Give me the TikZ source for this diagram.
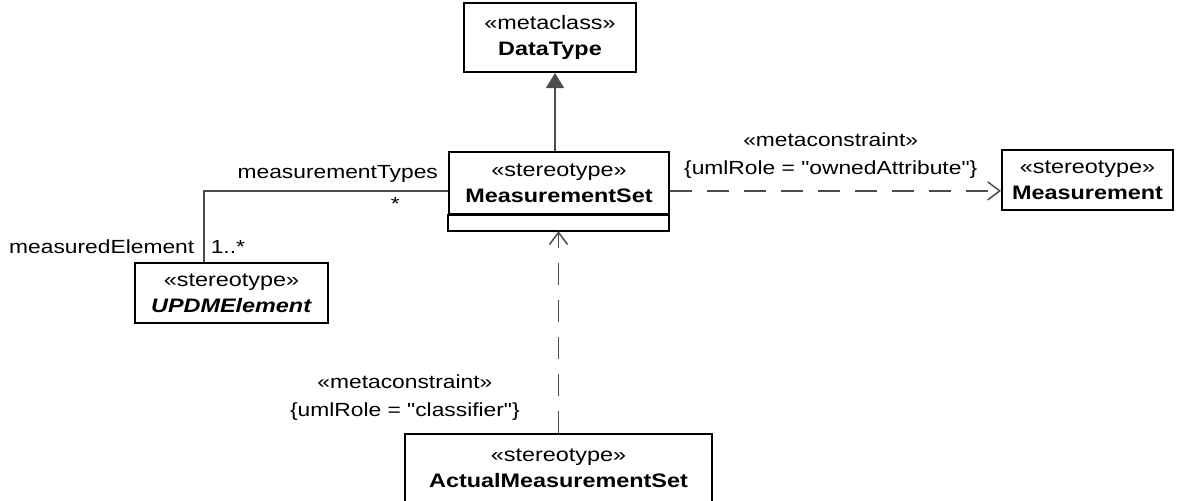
\documentclass[tikz,border=0pt]{standalone}
\usepackage{fontspec}
\setmainfont[FakeStretch=1.2, Ligatures=TeXOff]{Liberation Sans}
\usetikzlibrary{arrows.meta,fit}
\begin{document}
\begin{tikzpicture}[
    x=0.5pt, y=-0.5pt,
    every node/.style = {
      font=\fontsize{9.75}{13}\selectfont
    }, class/.style = {
      draw, line width=1pt, inner sep=0pt, align=center
    }, lbl/.style = {
      inner sep=0pt, align=center, font=\fontsize{9.5}{14}\selectfont
    }
  ]
  \tikzset{
    conn/.style={draw=black!70, line width=0.75pt},
    dep/.style={conn, dash pattern=on 11pt off 7.5pt, -{Straight Barb[length=6pt,width=9pt]}},
    gen/.style={conn, -{Triangle[length=7.5pt,width=9pt]}}
  }
  \useasboundingbox (0,0) rectangle (1179,500);

  \node[class, minimum width=86pt, minimum height=34.5pt] (datatype) at (550,37.5)
    {«metaclass»\\\textbf{DataType}};
  \node[class, minimum width=110pt, minimum height=31pt] (mset) at (559,183)
    {«stereotype»\\\textbf{MeasurementSet}};
  \node[minimum width=110pt, minimum height=7.5pt, inner sep=0pt, anchor=north] (msetops) at (mset.south) {};
  \draw[line width=1pt] (mset.south west) rectangle (msetops.south east);
  \node[fit=(mset)(msetops), inner sep=0pt] (msetbox) {};
  \node[class, minimum width=85.5pt, minimum height=30pt] (measurement) at (1087.5,180)
    {«stereotype»\\\textbf{Measurement}};
  \node[class, minimum width=96.5pt, minimum height=30pt] (updm) at (231.5,293)
    {«stereotype»\\\textbf{\textit{UPDMElement}}};
  \node[class, minimum width=153.5pt, minimum height=34.5pt] (actual) at (558.5,468.5)
    {«stereotype»\\\textbf{ActualMeasurementSet}};

  \coordinate (msettop) at ([xshift=-2pt]msetbox.north);
  \draw[gen] (msettop) -- (msettop |- datatype.south);

  \draw[conn] ([xshift=-13.75pt]updm.north) |- (msetbox.west)
    node[pos=1, lbl, anchor=south east, xshift=-4.5pt, yshift=4pt] {measurementTypes}
    node[pos=1, lbl, anchor=north east, xshift=-23.5pt, yshift=-3pt] {*}
    node[pos=0, lbl, anchor=base east, xshift=-4.5pt, yshift=4.5pt] {measuredElement}
    node[pos=0, lbl, anchor=base west, xshift=3pt, yshift=4.5pt] {1..*};

  \draw[dep] (msetbox.east) -- (msetbox.east -| measurement.west)
    node[midway, lbl, anchor=south, xshift=-2.5pt, yshift=6pt]
      {«metaconstraint»\\\{umlRole = "ownedAttribute"\}};

  \draw[dep] (actual.north) -- (actual.north |- msetbox.south)
    node[pos=0.175, lbl, anchor=east, xshift=-19pt]
      {«metaconstraint»\\\{umlRole = "classifier"\}};
\end{tikzpicture}
\end{document}
